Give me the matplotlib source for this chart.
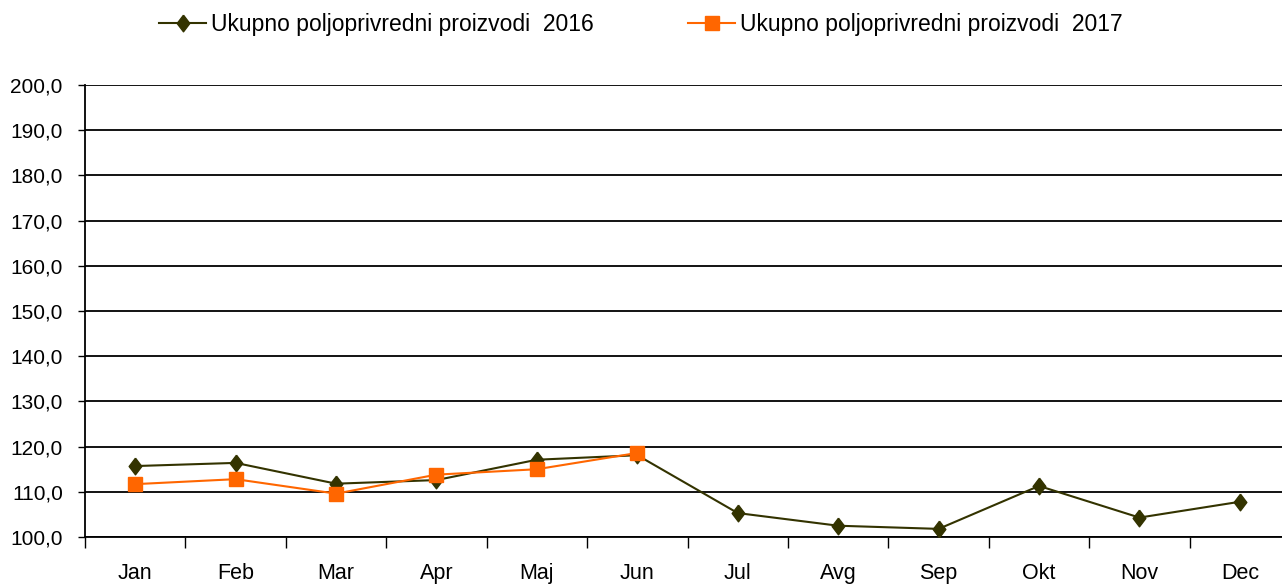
import matplotlib.pyplot as plt
import numpy as np

plt.rcParams['font.family'] = ['Liberation Sans', 'DejaVu Sans']

# podaci
meseci = ["Jan", "Feb", "Mar", "Apr", "Maj", "Jun", "Jul", "Avg", "Sep", "Okt", "Nov", "Dec"]
vrednosti_2016 = [115.7, 116.4, 111.8, 112.6, 117.1, 118.1, 105.3, 102.5, 101.8, 111.3, 104.3, 107.8]
vrednosti_2017 = [111.7, 112.8, 109.6, 113.8, 115.0, 118.6]
naziv_2016 = "Ukupno poljoprivredni proizvodi  2016"
naziv_2017 = "Ukupno poljoprivredni proizvodi  2017"

# uzi romb kao u originalu
romb = [(0, 1), (0.76, 0), (0, -1), (-0.76, 0), (0, 1)]

fig = plt.figure(figsize=(12.82, 5.88), dpi=100)
ax = fig.add_axes([0.0663, 0.0867, 0.94, 0.7687])

x = np.arange(len(meseci))
ax.plot(x, vrednosti_2016, color="#333300", lw=1.5, marker=romb, ms=12,
        label=naziv_2016, zorder=3)
ax.plot(x[:len(vrednosti_2017)], vrednosti_2017, color="#FF6600", lw=1.5, marker="s",
        ms=10, label=naziv_2017, zorder=4)

ax.set_xlim(-0.5, len(meseci) - 0.5)
ax.set_ylim(100, 200)
ax.set_yticks(np.arange(100, 201, 10))
ax.set_yticklabels([f"{v:.1f}".replace(".", ",") for v in np.arange(100, 201, 10)])
ax.yaxis.grid(True, color="black", lw=1.3)
ax.set_axisbelow(True)

# kategorije izmedju podeoka
ax.set_xticks(np.arange(-0.5, len(meseci), 1))
ax.set_xticklabels([])
ax.set_xticks(x, minor=True)
ax.set_xticklabels(meseci, minor=True)
ax.tick_params(axis="x", which="major", length=8, width=1, color="black", direction="out")
ax.tick_params(axis="x", which="minor", length=0, pad=19, labelsize=15.5)
ax.tick_params(axis="y", length=5, width=1, labelsize=15, pad=11)

for s in ["top", "right"]:
    ax.spines[s].set_visible(False)
ax.spines["left"].set_linewidth(1.3)
ax.spines["bottom"].set_linewidth(1.3)

fig.legend(loc="upper center", bbox_to_anchor=(0.5, 1.013), ncol=2, frameon=False,
           fontsize=16.5, handlelength=2.05, handletextpad=0.22, columnspacing=4.1)

plt.savefig("out.png", dpi=100)
